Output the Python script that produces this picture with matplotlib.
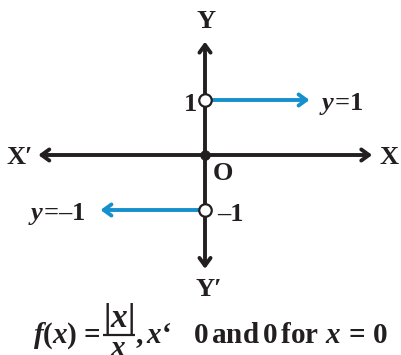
import matplotlib
matplotlib.use("Agg")
import matplotlib.pyplot as plt

plt.rcParams["font.family"] = ["Liberation Serif", "DejaVu Serif"]
plt.rcParams["font.weight"] = "bold"
plt.rcParams["mathtext.fontset"] = "custom"
plt.rcParams["mathtext.rm"] = "Liberation Serif:bold"
plt.rcParams["mathtext.it"] = "Liberation Serif:bold:italic"
plt.rcParams["mathtext.bf"] = "Liberation Serif:bold"

# ── data ──────────────────────────────────────────────────────────────────────
axis_extent = [-3.03, 3.04]     # x' .. x
yaxis_extent = [-2.07, 2.06]    # y' .. y
pos_branch_x = [0.0, 1.9]       # y = 1 for x > 0
neg_branch_x = [0.0, -1.9]      # y = -1 for x < 0
branch_y = [1, -1]
open_pts_y = [1, -1]

INK = "#231f20"
BLUE = "#1590cc"

S = 55.0  # pixels per unit


def P(px, py):
    # pixel position -> data position (origin at 205,155)
    return (px - 205) / S, (155 - py) / S


fig = plt.figure(figsize=(4.01, 3.55), dpi=100)
ax = fig.add_axes([0, 0, 1, 1])
ax.set_xlim(-205 / S, 196 / S)
ax.set_ylim(-200 / S, 155 / S)
ax.axis("off")

arrow = dict(arrowstyle="->,head_length=0.55,head_width=0.4", lw=2.8,
             color=INK, shrinkA=0, shrinkB=0)
# axes through origin
ax.annotate("", xy=(axis_extent[1], 0), xytext=(0, 0), arrowprops=arrow)
ax.annotate("", xy=(axis_extent[0], 0), xytext=(0, 0), arrowprops=arrow)
ax.annotate("", xy=(0, yaxis_extent[1]), xytext=(0, 0), arrowprops=arrow)
ax.annotate("", xy=(0, yaxis_extent[0]), xytext=(0, 0), arrowprops=arrow)

# the two branches of f
barrow = dict(arrow, color=BLUE)
ax.annotate("", xy=(pos_branch_x[1], branch_y[0]), xytext=(pos_branch_x[0], branch_y[0]),
            arrowprops=barrow)
ax.annotate("", xy=(neg_branch_x[1], branch_y[1]), xytext=(neg_branch_x[0], branch_y[1]),
            arrowprops=barrow)

ax.plot([0, 0], open_pts_y, "o", ms=9, mfc="white", mec=INK, mew=1.6, zorder=5)
ax.plot([0], [0], "o", ms=6.5, color=INK, zorder=5)

fs = 19
kw = dict(fontsize=fs, color=INK)
ax.text(*P(206, 21), "Y", ha="center", va="center", **kw)
ax.text(*P(209, 290), "Y\u2032", ha="center", va="center", **kw)
ax.text(*P(20, 157), "X\u2032", ha="center", va="center", **kw)
ax.text(*P(389, 157), "X", ha="center", va="center", **kw)
ax.text(*P(223, 173), "O", ha="center", va="center", **kw)
ax.text(*P(197, 104), "1", ha="right", va="center", **kw)
ax.text(*P(217, 214), "\u20131", ha="left", va="center", **kw)
ax.text(*P(319, 104), r"$y\!=\!1$", ha="left", va="center", **kw)
ax.text(*P(86, 214), r"$y\!=\!$" + "\u20131", ha="right", va="center", **kw)

# caption: f(x) = |x|/x , x‘  0 and 0 for x = 0
ffs = 21
fk = dict(fontsize=ffs, color=INK, va="baseline")
ax.text(*P(33, 343), r"$f(x)$", ha="left", **fk)
ax.text(*P(100, 343), "=", ha="right", **fk)
ax.text(*P(118, 327), r"$|x|$", ha="center", fontsize=24, color=INK, va="baseline")
bx0, by = P(103, 335)
bx1, _ = P(135, 335)
ax.plot([bx0, bx1], [by, by], color=INK, lw=1.6, solid_capstyle="butt")
ax.text(*P(118, 356), r"$x$", ha="center", **fk)
ax.text(*P(135, 343), r"$,x$" + "\u2018", ha="left", **fk)
ax.text(*P(193, 343), r"$\mathrm{0\,and\,0\,for}\ x\,=\,0$", ha="left", **fk)

fig.savefig("out.png", dpi=100)
